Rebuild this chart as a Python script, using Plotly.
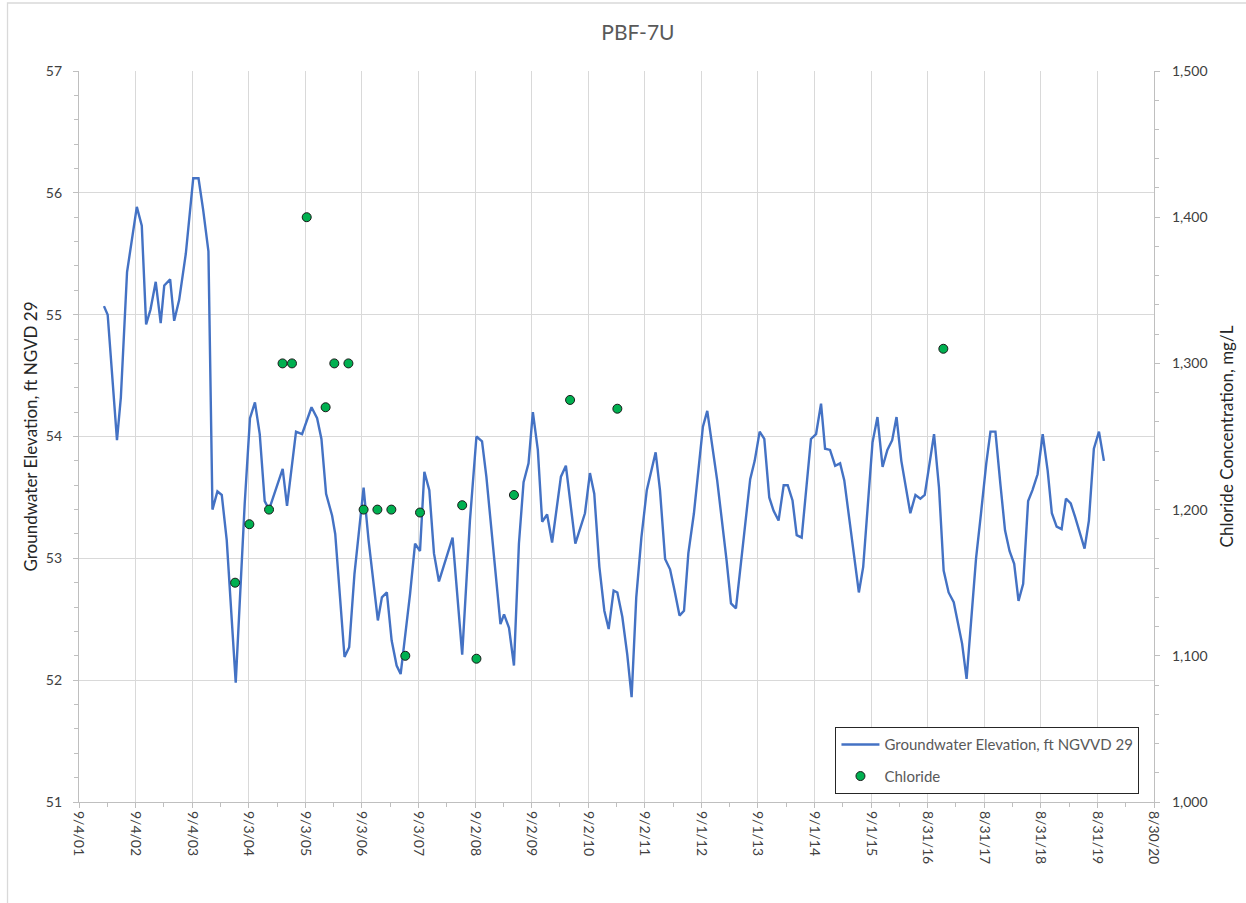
import plotly.graph_objects as go

# Groundwater elevation record, ft NGVD 29
gw_dates = [
    "2002-02-12", "2002-03-08", "2002-05-07", "2002-06-01", "2002-07-11", "2002-08-06",
    "2002-09-12", "2002-10-14", "2002-11-11", "2002-12-09", "2003-01-12", "2003-02-13",
    "2003-03-08", "2003-04-15", "2003-05-11", "2003-06-12", "2003-07-25", "2003-09-11",
    "2003-10-15", "2003-11-14", "2003-12-18", "2004-01-13", "2004-02-14", "2004-03-13",
    "2004-04-14", "2004-06-11", "2004-08-08", "2004-09-11", "2004-10-13", "2004-11-13",
    "2004-12-15", "2005-01-12", "2005-04-10", "2005-05-08", "2005-07-05", "2005-08-13",
    "2005-10-13", "2005-11-18", "2005-12-16", "2006-01-15", "2006-02-23", "2006-03-15",
    "2006-04-17", "2006-05-14", "2006-06-13", "2006-07-17", "2006-09-14", "2006-10-16",
    "2006-12-15", "2007-01-10", "2007-02-11", "2007-03-14", "2007-04-15", "2007-05-11",
    "2007-07-11", "2007-08-12", "2007-09-13", "2007-10-11", "2007-11-12", "2007-12-12",
    "2008-01-13", "2008-03-13", "2008-04-10", "2008-06-11", "2008-07-31", "2008-09-11",
    "2008-10-17", "2008-11-14", "2009-01-14", "2009-02-13", "2009-03-08", "2009-04-09",
    "2009-05-11", "2009-06-12", "2009-07-12", "2009-08-13", "2009-09-10", "2009-10-12",
    "2009-11-09", "2009-12-11", "2010-01-12", "2010-03-10", "2010-04-11", "2010-06-11",
    "2010-08-12", "2010-09-13", "2010-10-11", "2010-11-13", "2010-12-15", "2011-01-12",
    "2011-02-13", "2011-03-09", "2011-04-10", "2011-05-12", "2011-06-09", "2011-07-09",
    "2011-08-11", "2011-09-15", "2011-11-11", "2011-12-09", "2012-01-11", "2012-02-12",
    "2012-03-12", "2012-04-13", "2012-05-12", "2012-06-09", "2012-07-15", "2012-09-11",
    "2012-10-09", "2012-11-10", "2012-12-12", "2013-02-11", "2013-03-11", "2013-04-12",
    "2013-06-11", "2013-07-13", "2013-08-11", "2013-09-12", "2013-10-12", "2013-11-13",
    "2013-12-11", "2014-01-12", "2014-02-14", "2014-03-12", "2014-04-12", "2014-05-09",
    "2014-06-10", "2014-08-09", "2014-09-11", "2014-10-13", "2014-11-08", "2014-12-10",
    "2015-01-12", "2015-02-13", "2015-03-12", "2015-05-08", "2015-06-14", "2015-07-12",
    "2015-09-10", "2015-10-12", "2015-11-14", "2015-12-15", "2016-01-15", "2016-02-12",
    "2016-03-14", "2016-05-11", "2016-06-13", "2016-07-15", "2016-08-12", "2016-10-11",
    "2016-11-12", "2016-12-12", "2017-01-13", "2017-02-15", "2017-03-14", "2017-04-10",
    "2017-05-09", "2017-06-07", "2017-07-09", "2017-08-10", "2017-09-13", "2017-10-10",
    "2017-11-11", "2017-12-13", "2018-01-12", "2018-02-10", "2018-03-12", "2018-04-09",
    "2018-05-09", "2018-06-10", "2018-07-08", "2018-08-10", "2018-09-12", "2018-10-14",
    "2018-11-10", "2018-12-11", "2019-01-12", "2019-02-09", "2019-03-12", "2019-04-09",
    "2019-06-09", "2019-07-07", "2019-08-08", "2019-09-10", "2019-10-12",
]
gw_elev = [
    55.07, 55.00, 53.97, 54.32, 55.35, 55.56,
    55.885, 55.73, 54.92, 55.04, 55.27, 54.93,
    55.24, 55.29, 54.95, 55.12, 55.50, 56.12,
    56.12, 55.86, 55.52, 53.40, 53.55, 53.52,
    53.15, 51.98, 53.45, 54.15, 54.28, 54.02,
    53.47, 53.40, 53.735, 53.43, 54.04, 54.02,
    54.24, 54.15, 53.98, 53.53, 53.35, 53.20,
    52.68, 52.19, 52.27, 52.87, 53.58, 53.15,
    52.49, 52.68, 52.72, 52.325, 52.12, 52.05,
    52.71, 53.12, 53.06, 53.71, 53.56, 53.04,
    52.81, 53.06, 53.17, 52.21, 53.31, 54.00,
    53.96, 53.67, 52.90, 52.46, 52.54, 52.43,
    52.12, 53.12, 53.625, 53.78, 54.20, 53.89,
    53.30, 53.36, 53.13, 53.67, 53.76, 53.12,
    53.37, 53.70, 53.53, 52.93, 52.57, 52.42,
    52.735, 52.72, 52.52, 52.21, 51.86, 52.68,
    53.17, 53.56, 53.87, 53.56, 52.995, 52.91,
    52.735, 52.53, 52.57, 53.04, 53.37, 54.08,
    54.21, 53.91, 53.64, 52.98, 52.63, 52.59,
    53.31, 53.65, 53.80, 54.04, 53.98, 53.50,
    53.39, 53.31, 53.60, 53.60, 53.475, 53.19,
    53.17, 53.98, 54.02, 54.27, 53.90, 53.89,
    53.76, 53.78, 53.64, 53.06, 52.72, 52.93,
    53.95, 54.16, 53.75, 53.89, 53.97, 54.16,
    53.80, 53.37, 53.52, 53.49, 53.52, 54.02,
    53.58, 52.90, 52.72, 52.64, 52.46, 52.30,
    52.01, 52.49, 53.00, 53.37, 53.78, 54.04,
    54.04, 53.61, 53.23, 53.06, 52.955, 52.65,
    52.79, 53.47, 53.56, 53.69, 54.02, 53.72,
    53.37, 53.26, 53.24, 53.49, 53.45, 53.34,
    53.08, 53.31, 53.90, 54.04, 53.80,
]

# Chloride concentration samples, mg/L
cl_dates = [
    "2004-06-07", "2004-09-07", "2005-01-12", "2005-04-09", "2005-06-09",
    "2005-09-12", "2006-01-12", "2006-03-09", "2006-06-08", "2006-09-14",
    "2006-12-12", "2007-03-12", "2007-06-10", "2007-09-13", "2008-06-11",
    "2008-09-11", "2009-05-11", "2010-05-08", "2011-03-09", "2016-12-10",
]
cl_conc = [
    1150, 1190, 1200, 1300, 1300,
    1400, 1270, 1300, 1300, 1200,
    1200, 1200, 1100, 1198, 1203,
    1098, 1210, 1275, 1269, 1310,
]

# Date axis ticks, one every 365 days
x_tick_dates = [
    "2001-09-04", "2002-09-04", "2003-09-04", "2004-09-03", "2005-09-03",
    "2006-09-03", "2007-09-03", "2008-09-02", "2009-09-02", "2010-09-02",
    "2011-09-02", "2012-09-01", "2013-09-01", "2014-09-01", "2015-09-01",
    "2016-08-31", "2017-08-31", "2018-08-31", "2019-08-31", "2020-08-30",
]
x_tick_labels = [
    "9/4/01", "9/4/02", "9/4/03", "9/3/04", "9/3/05",
    "9/3/06", "9/3/07", "9/2/08", "9/2/09", "9/2/10",
    "9/2/11", "9/1/12", "9/1/13", "9/1/14", "9/1/15",
    "8/31/16", "8/31/17", "8/31/18", "8/31/19", "8/30/20",
]

FONT = "Lato, 'Open Sans', sans-serif"
TICK_COLOR = "#404040"
TEXT_GRAY = "#595959"
GRID = "#d9d9d9"
AXIS_LINE = "#bfbfbf"
DAY_MS = 86400000

fig = go.Figure()

fig.add_trace(go.Scatter(
    x=gw_dates, y=gw_elev, mode="lines",
    name="Groundwater Elevation, ft NGVVD 29",
    line=dict(color="#4472C4", width=2.4),
    legendgroup="gw",
))

fig.add_trace(go.Scatter(
    x=cl_dates, y=cl_conc, mode="markers", yaxis="y2",
    name="Chloride",
    marker=dict(color="#00B050", size=9, line=dict(color="#1a1a1a", width=1)),
    legendgroup="cl",
))

fig.update_layout(
    width=1246, height=903,
    margin=dict(l=79, r=88, t=71, b=101),
    paper_bgcolor="white", plot_bgcolor="white",
    font=dict(family=FONT, size=14, color=TICK_COLOR),
    title=dict(
        text="PBF-7U", x=0.512, xref="container", xanchor="center",
        y=1 - 33 / 903, yref="container", yanchor="middle",
        font=dict(family=FONT, size=21, color=TEXT_GRAY),
    ),
    xaxis=dict(
        type="date",
        range=[x_tick_dates[0], x_tick_dates[-1]],
        tickmode="array", tickvals=x_tick_dates, ticktext=x_tick_labels,
        tickangle=90,
        tickfont=dict(family=FONT, size=14, color=TICK_COLOR),
        showgrid=True, gridcolor=GRID, gridwidth=1.3,
        showline=True, linecolor=AXIS_LINE, linewidth=1.3,
        ticks="outside", ticklen=5, tickcolor=AXIS_LINE, tickwidth=1.3,
        minor=dict(tick0=x_tick_dates[0], dtick=182.5 * DAY_MS, ticks="outside",
                   ticklen=4, tickcolor=AXIS_LINE, showgrid=False),
        zeroline=False,
    ),
    yaxis=dict(
        range=[51, 57], dtick=1, tick0=51,
        title=dict(text="Groundwater Elevation, ft NGVD 29",
                   font=dict(family=FONT, size=17, color="#262626"), standoff=3),
        tickfont=dict(family=FONT, size=14, color=TICK_COLOR),
        showgrid=True, gridcolor=GRID, gridwidth=1.3,
        showline=True, linecolor=AXIS_LINE, linewidth=1.3,
        ticks="outside", ticklen=5, tickcolor=AXIS_LINE, tickwidth=1.3,
        ticklabelstandoff=8,
        minor=dict(dtick=0.2, ticks="outside", ticklen=4, tickcolor=AXIS_LINE, showgrid=False),
        zeroline=False,
    ),
    yaxis2=dict(
        range=[1000, 1500], dtick=100, tick0=1000, tickformat=",",
        overlaying="y", side="right",
        title=dict(text="Chloride Concentration, mg/L",
                   font=dict(family=FONT, size=17, color="#262626"), standoff=14),
        tickfont=dict(family=FONT, size=14, color=TICK_COLOR),
        showgrid=False,
        showline=True, linecolor=AXIS_LINE, linewidth=1.3,
        ticks="outside", ticklen=5, tickcolor=AXIS_LINE, tickwidth=1.3,
        ticklabelstandoff=9,
        minor=dict(dtick=20, ticks="outside", ticklen=4, tickcolor=AXIS_LINE, showgrid=False),
        zeroline=False,
    ),
    legend=dict(
        x=0.7034, y=0.1026, xanchor="left", yanchor="top",
        bgcolor="white", bordercolor="#262626", borderwidth=1.3,
        font=dict(family=FONT, size=15, color=TEXT_GRAY),
        traceorder="grouped", tracegroupgap=9, itemwidth=38,
    ),
    showlegend=True,
    shapes=[dict(
        type="rect", xref="paper", yref="paper",
        x0=-0.0665, x1=1.2, y0=-0.3, y1=1.093,
        line=dict(color=GRID, width=1.3), fillcolor="rgba(0,0,0,0)", layer="below",
    )],
)

fig.write_html("out.html")
